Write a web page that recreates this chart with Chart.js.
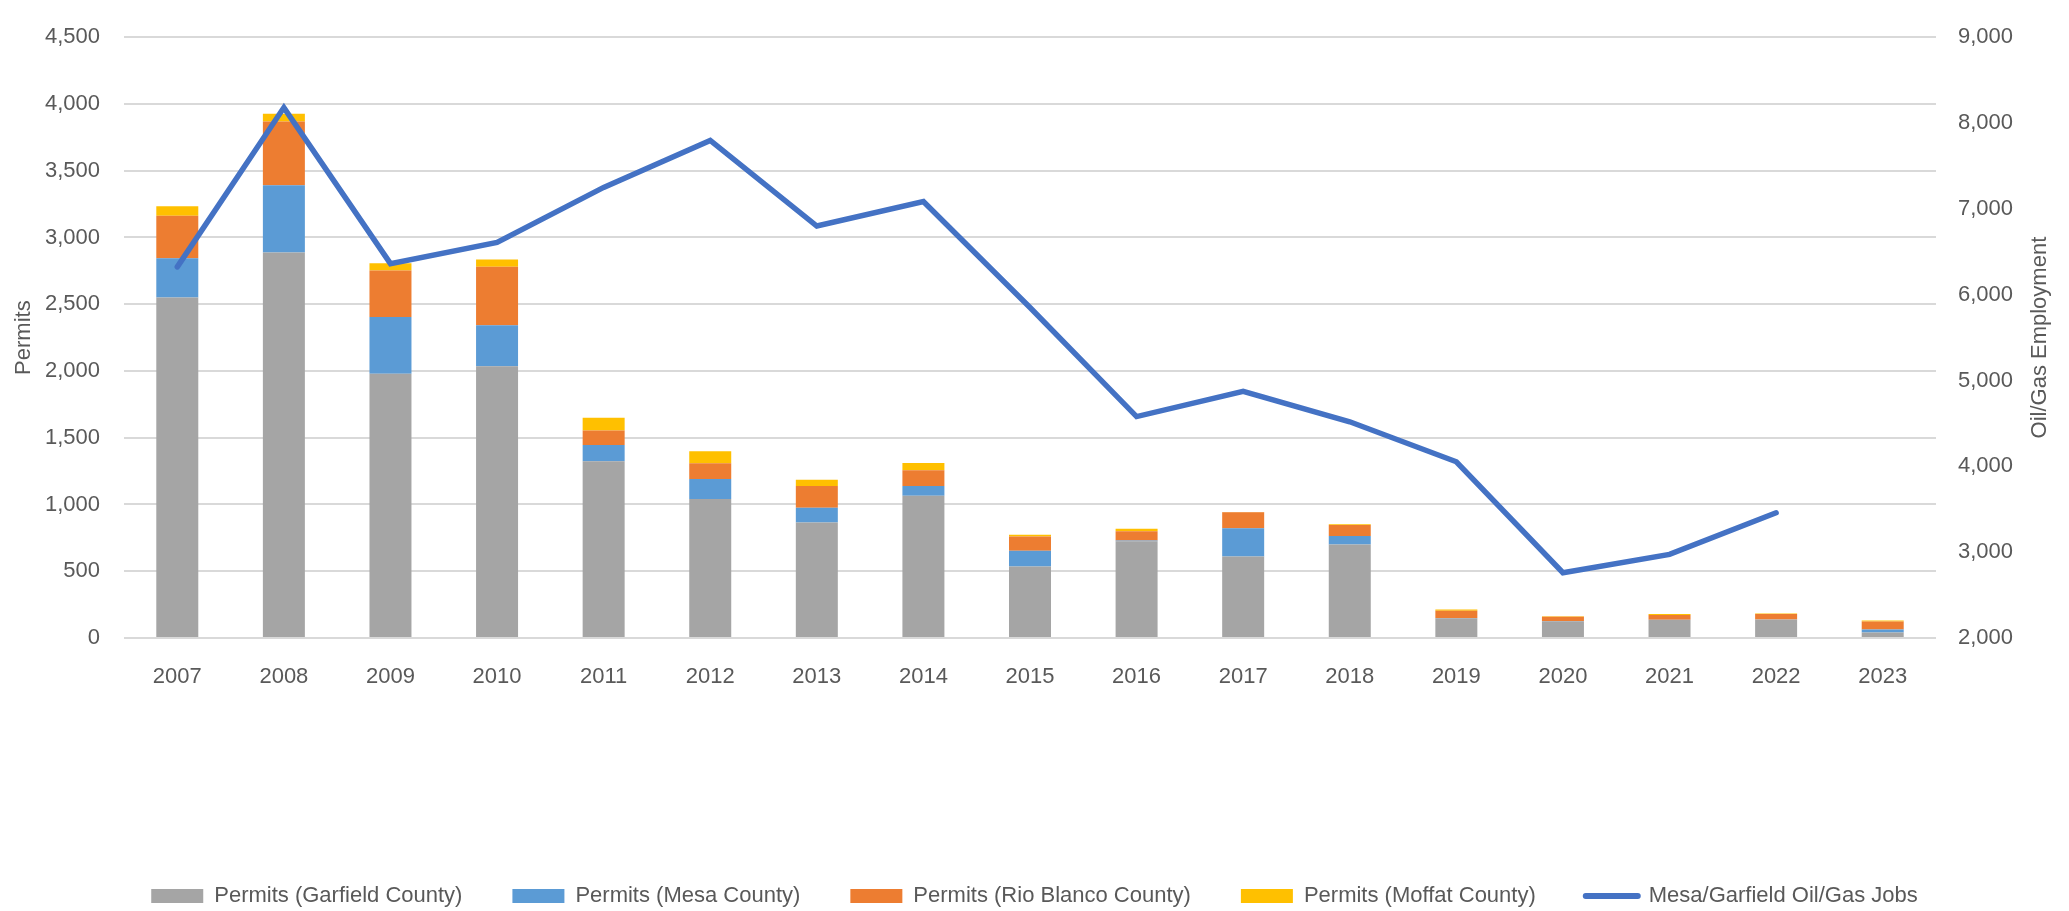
<!DOCTYPE html>
<html>
<head>
<meta charset="utf-8">
<script src="https://cdn.jsdelivr.net/npm/chart.js@4.4.1/dist/chart.umd.min.js"></script>
<style>
  html, body { margin: 0; padding: 0; background: #fff; }
  #wrap { width: 2069px; height: 911px; }
</style>
</head>
<body>
<div id="wrap"><canvas id="permitChart"></canvas></div>
<script>
// years on the x axis
const years = ['2007', '2008', '2009', '2010', '2011', '2012', '2013', '2014', '2015',
  '2016', '2017', '2018', '2019', '2020', '2021', '2022', '2023'];

// permits per county (stacked bars, left axis)
const garfieldPermits = [2550, 2887, 1980, 2035, 1323, 1042, 865, 1066, 535, 725, 611, 700, 147, 125, 136, 138, 41];
const mesaPermits = [295, 504, 424, 308, 122, 149, 110, 73, 119, 5, 211, 64, 2, 2, 0, 0, 22];
const rioBlancoPermits = [318, 477, 349, 437, 110, 117, 164, 117, 107, 70, 119, 82, 56, 32, 36, 42, 61];
const moffatPermits = [70, 58, 54, 55, 95, 91, 46, 55, 12, 19, 3, 6, 9, 3, 8, 3, 7];

// oil/gas jobs (line, right axis), no value yet for 2023
const oilGasJobs = [6324, 8180, 6362, 6609, 7250, 7797, 6800, 7085, 5850, 4580, 4875, 4519, 4053, 2760, 2974, 3459, null];

// axis ticks
const permitTicks = { min: 0, max: 4500, step: 500 };
const jobTicks = { min: 2000, max: 9000, step: 1000 };

const txtColor = '#595959';
const fontFam = "'Liberation Sans', Arial, sans-serif";

// draws the right axis title reading bottom-to-top like the left one
const rightTitle = {
  id: 'rightTitle',
  afterDraw(chart) {
    const ctx = chart.ctx;
    const area = chart.chartArea;
    ctx.save();
    ctx.translate(2040, (area.top + area.bottom) / 2);
    ctx.rotate(-Math.PI / 2);
    ctx.font = '22px ' + fontFam;
    ctx.fillStyle = txtColor;
    ctx.textAlign = 'center';
    ctx.textBaseline = 'middle';
    ctx.fillText('Oil/Gas Employment', 0, 0);
    ctx.restore();
  }
};

function barSet(label, data, color) {
  return {
    type: 'bar',
    label: label,
    data: data,
    backgroundColor: color,
    borderWidth: 0,
    yAxisID: 'y',
    order: 1,
    categoryPercentage: 1,
    barPercentage: 0.394
  };
}

const ctx = document.getElementById('permitChart').getContext('2d');
const permitChart = new Chart(ctx, {
  data: {
    labels: years,
    datasets: [
      barSet('Permits (Garfield County)', garfieldPermits, '#A5A5A5'),
      barSet('Permits (Mesa County)', mesaPermits, '#5B9BD5'),
      barSet('Permits (Rio Blanco County)', rioBlancoPermits, '#ED7D31'),
      barSet('Permits (Moffat County)', moffatPermits, '#FFC000'),
      {
        type: 'line',
        label: 'Mesa/Garfield Oil/Gas Jobs',
        data: oilGasJobs,
        borderColor: '#4472C4',
        backgroundColor: '#4472C4',
        borderWidth: 5.5,
        borderJoinStyle: 'miter',
        borderCapStyle: 'round',
        pointRadius: 0,
        tension: 0,
        yAxisID: 'y1',
        order: 0
      }
    ]
  },
  options: {
    responsive: true,
    maintainAspectRatio: false,
    animation: false,
    layout: { padding: { top: 20, bottom: -6, left: 0, right: 0 } },
    scales: {
      x: {
        stacked: true,
        grid: { display: false },
        border: { display: false },
        ticks: { color: txtColor, font: { family: fontFam, size: 22 }, padding: 18, maxRotation: 0 },
        afterFit(scale) { scale.height = 197; }
      },
      y: {
        stacked: true,
        position: 'left',
        min: permitTicks.min,
        max: permitTicks.max,
        ticks: { stepSize: permitTicks.step, color: txtColor, font: { family: fontFam, size: 22 }, padding: 24 },
        grid: { color: '#D9D9D9', lineWidth: 2, drawTicks: false },
        border: { display: false },
        title: { display: true, text: 'Permits', color: txtColor, font: { family: fontFam, size: 22 }, padding: 11 },
        afterFit(scale) { scale.width = 124; }
      },
      y1: {
        stacked: false,
        position: 'right',
        min: jobTicks.min,
        max: jobTicks.max,
        ticks: { stepSize: jobTicks.step, color: txtColor, font: { family: fontFam, size: 22 }, padding: 22 },
        grid: { display: false, drawTicks: false },
        border: { display: false },
        afterFit(scale) { scale.width = 133; }
      }
    },
    plugins: {
      tooltip: { enabled: false },
      legend: {
        position: 'bottom',
        labels: {
          usePointStyle: true,
          pointStyleWidth: 52,
          boxHeight: 14,
          padding: 50,
          color: txtColor,
          font: { family: fontFam, size: 22 },
          sort: (a, b) => a.datasetIndex - b.datasetIndex,
          generateLabels(chart) {
            const items = Chart.defaults.plugins.legend.labels.generateLabels(chart);
            items.forEach(item => {
              const ds = chart.data.datasets[item.datasetIndex];
              if (ds.type === 'line') {
                item.pointStyle = 'line';
                item.lineWidth = 6;
                item.lineCap = 'round';
                item.strokeStyle = ds.borderColor;
              } else {
                item.pointStyle = 'rect';
                item.lineWidth = 0;
              }
            });
            return items;
          }
        }
      }
    }
  },
  plugins: [rightTitle]
});
</script>
</body>
</html>
